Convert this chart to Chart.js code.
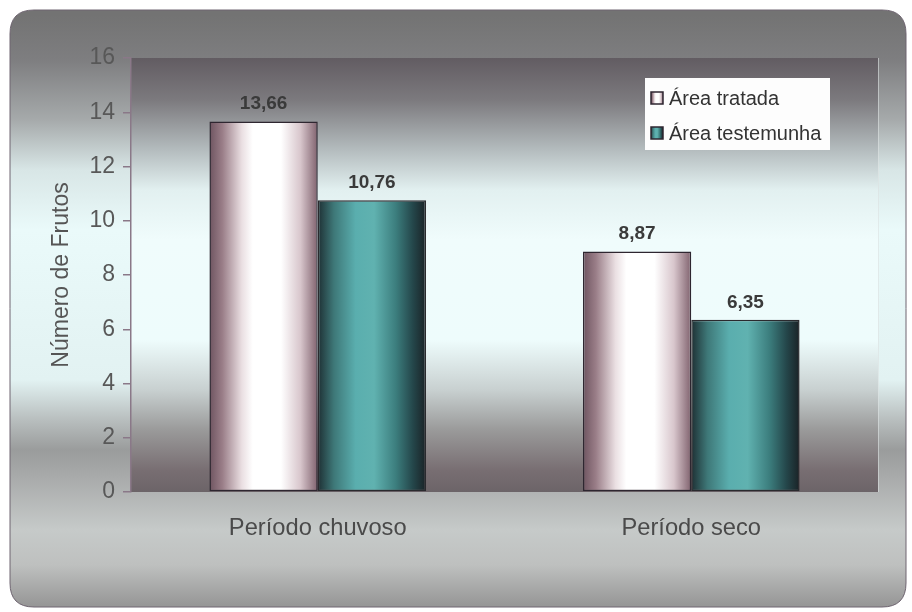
<!DOCTYPE html>
<html>
<head>
<meta charset="utf-8">
<title>Número de Frutos</title>
<script src="https://cdn.jsdelivr.net/npm/chart.js@4.4.0/dist/chart.umd.min.js"></script>
<style>
    html, body { margin: 0; padding: 0; background: #ffffff; }
    #wrap { width: 912px; height: 612px; }
</style>
</head>
<body>
<div id="wrap"><canvas id="frutosChart" width="912" height="612"></canvas></div>
<script>
// ---- dados ----
const periodos = ["Período chuvoso", "Período seco"];
const serieNomes = ["Área tratada", "Área testemunha"];
const areaTratada = [13.66, 8.87];
const areaTestemunha = [10.76, 6.35];
const yTicks = [0, 2, 4, 6, 8, 10, 12, 14, 16];

const FONT = "'Liberation Sans', Arial, sans-serif";
const CAT_PCT = 0.58;

// cores "cilindro" das barras (da esquerda para a direita)
const stopsTratada = [
    [0, "#6e5460"], [0.12, "#9a7e88"], [0.3, "#eadfe2"], [0.4, "#ffffff"],
    [0.66, "#ffffff"], [0.84, "#d8c6cc"], [1, "#80626e"]
];
const stopsTestemunha = [
    [0, "#1e3034"], [0.15, "#3e7878"], [0.35, "#5aaeae"], [0.52, "#60b2b0"],
    [0.72, "#3c7e7e"], [0.88, "#24464a"], [1, "#1a2226"]
];

// gradiente horizontal calculado a partir da escala x
function barGradient(stops) {
    return (ctx) => {
        const chart = ctx.chart;
        const xs = chart.scales.x;
        const fallback = stops[3][1];
        if (!xs || ctx.type !== "data") return fallback;
        const n = chart.data.datasets.length;
        const slot = (xs.width / chart.data.labels.length) * CAT_PCT;
        const barW = slot / n;
        const left = xs.getPixelForValue(ctx.dataIndex) - slot / 2 + barW * ctx.datasetIndex;
        if (!isFinite(left) || !isFinite(barW)) return fallback;
        const g = chart.ctx.createLinearGradient(left, 0, left + barW, 0);
        stops.forEach(([p, c]) => g.addColorStop(p, c));
        return g;
    };
}

function roundRect(c, x, y, w, h, r) {
    c.beginPath();
    c.moveTo(x + r, y);
    c.lineTo(x + w - r, y);
    c.quadraticCurveTo(x + w, y, x + w, y + r);
    c.lineTo(x + w, y + h - r);
    c.quadraticCurveTo(x + w, y + h, x + w - r, y + h);
    c.lineTo(x + r, y + h);
    c.quadraticCurveTo(x, y + h, x, y + h - r);
    c.lineTo(x, y + r);
    c.quadraticCurveTo(x, y, x + r, y);
    c.closePath();
}

// fundo: moldura arredondada + area do grafico
const fundoPlugin = {
    id: "fundo",
    beforeDraw(chart) {
        const c = chart.ctx;
        const a = chart.chartArea;
        c.save();
        c.fillStyle = "#ffffff";
        c.fillRect(0, 0, chart.width, chart.height);

        const top = 10, bottom = 607;
        const g = c.createLinearGradient(0, top, 0, bottom);
        const outer = [
            [15, "#737373"], [60, "#7e7e80"], [120, "#a6aaab"], [170, "#d8e6e6"],
            [230, "#eafafa"], [380, "#e2f2f2"], [420, "#b8bebe"], [450, "#9a9c9c"],
            [480, "#aaacac"], [530, "#c6cac9"], [565, "#bec0bf"], [605, "#979797"]
        ];
        outer.forEach(([y, col]) => g.addColorStop((y - top) / (bottom - top), col));
        roundRect(c, 10, top, 896, bottom - top, 24);
        c.fillStyle = g;
        c.fill();
        c.lineWidth = 1;
        c.strokeStyle = "#6e6470";
        c.stroke();

        const pg = c.createLinearGradient(0, a.top, 0, a.bottom);
        const inner = [
            [0, "#625c62"], [0.097, "#7c7a7e"], [0.212, "#b4bcbe"], [0.304, "#e2f0f0"],
            [0.419, "#f0fcfc"], [0.65, "#eefcfc"], [0.765, "#c8d0d0"], [0.857, "#9a9a9a"],
            [0.95, "#786e72"], [1, "#6c6468"]
        ];
        inner.forEach(([p, col]) => pg.addColorStop(p, col));
        c.fillStyle = pg;
        c.fillRect(a.left, a.top, a.right - a.left, a.bottom - a.top);
        c.strokeStyle = "rgba(220,225,225,0.6)";
        c.lineWidth = 1;
        c.beginPath();
        c.moveTo(a.right + 0.5, a.top);
        c.lineTo(a.right + 0.5, a.bottom);
        c.stroke();
        c.restore();
    }
};

// rótulos de valor acima das barras
const valoresPlugin = {
    id: "valores",
    afterDatasetsDraw(chart) {
        const c = chart.ctx;
        c.save();
        c.font = "bold 19px " + FONT;
        c.fillStyle = "#3a3a3a";
        c.textAlign = "center";
        c.textBaseline = "alphabetic";
        chart.data.datasets.forEach((ds, i) => {
            chart.getDatasetMeta(i).data.forEach((el, j) => {
                const txt = ds.data[j].toFixed(2).replace(".", ",");
                c.fillText(txt, el.x, el.y - 12);
            });
        });
        c.restore();
    }
};

// legenda dentro da area do grafico
const legendaPlugin = {
    id: "legenda",
    afterDraw(chart) {
        const c = chart.ctx;
        const a = chart.chartArea;
        const bw = 185, bh = 72;
        const bx = a.right - 48 - bw, by = a.top + 20;
        c.save();
        c.fillStyle = "#fdfdfd";
        c.fillRect(bx, by, bw, bh);
        c.font = "20px " + FONT;
        c.textBaseline = "middle";
        c.textAlign = "left";
        const swatches = [stopsTratada, stopsTestemunha];
        chart.data.datasets.forEach((ds, i) => {
            const cy = by + 20 + i * 35;
            const sx = bx + 6, sy = cy - 6;
            const sg = c.createLinearGradient(sx, 0, sx + 12, 0);
            swatches[i].forEach(([p, col]) => sg.addColorStop(p, col));
            c.fillStyle = sg;
            c.fillRect(sx, sy, 12, 12);
            c.strokeStyle = "#2e2630";
            c.lineWidth = 1.5;
            c.strokeRect(sx, sy, 12, 12);
            c.fillStyle = "#333333";
            c.fillText(ds.label, bx + 24, cy + 1);
        });
        c.restore();
    }
};

new Chart(document.getElementById("frutosChart"), {
    type: "bar",
    data: {
        labels: periodos,
        datasets: [
            {
                label: serieNomes[0],
                data: areaTratada,
                backgroundColor: barGradient(stopsTratada),
                borderColor: "#2e2630",
                borderWidth: 1.5,
                borderSkipped: false
            },
            {
                label: serieNomes[1],
                data: areaTestemunha,
                backgroundColor: barGradient(stopsTestemunha),
                borderColor: "#2a2a2e",
                borderWidth: 1.5,
                borderSkipped: false
            }
        ]
    },
    options: {
        responsive: false,
        devicePixelRatio: 1,
        animation: false,
        layout: { padding: { top: 58, right: 34, left: 0, bottom: 0 } },
        datasets: { bar: { barPercentage: 1, categoryPercentage: CAT_PCT } },
        plugins: {
            legend: { display: false },
            tooltip: { enabled: false }
        },
        scales: {
            x: {
                grid: { display: false, drawTicks: false },
                border: { display: false },
                ticks: { color: "#4a4a4a", font: { family: FONT, size: 23.7 }, padding: 22 },
                afterFit: (s) => { s.height = 120; }
            },
            y: {
                min: 0,
                max: 16,
                afterBuildTicks: (s) => { s.ticks = yTicks.map((v) => ({ value: v })); },
                ticks: { color: "#585858", font: { family: FONT, size: 23 }, padding: 8 },
                grid: { drawOnChartArea: false, drawTicks: true, tickLength: 8, color: "#8a7888", lineWidth: 1.5 },
                border: { display: true, color: "#8a7888", width: 1.5 },
                title: {
                    display: true,
                    text: "Número de Frutos",
                    color: "#555555",
                    font: { family: FONT, size: 23 },
                    padding: { top: 48, bottom: 0 }
                },
                afterFit: (s) => { s.width = 131; }
            }
        }
    },
    plugins: [fundoPlugin, valoresPlugin, legendaPlugin]
});
</script>
</body>
</html>
